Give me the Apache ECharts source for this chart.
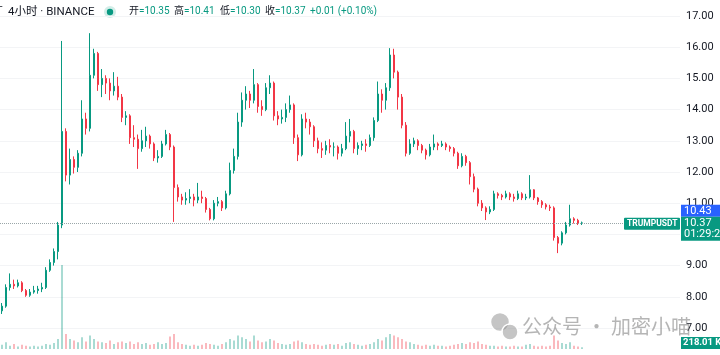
<!DOCTYPE html>
<html>
<head>
<meta charset="utf-8">
<script src="https://cdn.jsdelivr.net/npm/echarts@6/dist/echarts.min.js"></script>
<style>
  html, body { margin: 0; padding: 0; background: #fff; }
  #main { width: 720px; height: 355px; }
</style>
</head>
<body>
<div id="main"></div>
<script>
// 4小时 K线: [开, 收, 低, 高]
var ohlc = [
  [7.55, 7.7, 7.45, 7.8], [7.7, 8.3, 7.65, 8.4], [8.3, 8.4, 8.2, 8.75], [8.4, 8.35, 8.25, 8.55],
  [8.35, 8.45, 8.3, 8.55], [8.45, 8.2, 8.15, 8.5], [8.2, 8.05, 8.0, 8.25], [8.05, 8.15, 8.0, 8.25],
  [8.15, 8.2, 8.1, 8.35], [8.2, 8.25, 8.1, 8.35], [8.25, 8.3, 8.15, 8.45], [8.3, 8.85, 8.25, 8.95],
  [8.85, 9.1, 8.8, 9.2], [9.1, 9.45, 9.0, 9.55], [9.45, 10.3, 9.2, 10.4], [10.3, 13.3, 10.2, 16.2],
  [13.3, 11.9, 11.7, 13.4], [11.9, 12.4, 11.6, 12.75], [12.4, 12.15, 11.95, 12.5], [12.15, 12.6, 12.0, 12.7],
  [12.6, 13.7, 12.5, 14.3], [13.7, 13.4, 13.2, 13.9], [13.4, 15.1, 13.3, 16.45], [15.1, 15.8, 15.0, 15.95],
  [15.8, 14.8, 14.6, 15.85], [14.8, 15.0, 14.4, 15.3], [15.0, 14.85, 14.5, 15.1], [14.85, 14.6, 14.3, 15.0],
  [14.6, 14.75, 14.45, 15.2], [14.75, 14.4, 14.3, 15.05], [14.4, 13.75, 13.6, 14.5], [13.75, 13.8, 13.5, 13.95],
  [13.8, 13.1, 12.9, 13.85], [13.1, 13.05, 12.8, 13.5], [13.05, 12.75, 12.1, 13.2], [12.75, 13.0, 12.65, 13.35],
  [13.0, 13.15, 12.8, 13.45], [13.15, 12.9, 12.75, 13.2], [12.9, 12.45, 12.35, 12.95], [12.45, 12.5, 12.3, 12.7],
  [12.5, 12.9, 12.45, 13.0], [12.9, 13.2, 12.85, 13.35], [13.2, 12.8, 12.7, 13.25], [12.8, 11.5, 10.4, 12.85],
  [11.5, 11.2, 11.05, 11.6], [11.2, 11.1, 10.95, 11.3], [11.1, 11.15, 10.95, 11.35], [11.15, 11.2, 11.0, 11.45],
  [11.2, 11.1, 10.9, 11.3], [11.1, 11.2, 11.0, 11.65], [11.2, 11.15, 11.0, 11.4], [11.15, 10.8, 10.7, 11.2],
  [10.8, 10.5, 10.45, 10.85], [10.5, 11.0, 10.45, 11.1], [11.0, 11.05, 10.9, 11.2], [11.05, 10.85, 10.75, 11.1],
  [10.85, 11.3, 10.8, 11.4], [11.3, 12.05, 11.25, 12.3], [12.05, 12.5, 11.95, 12.75], [12.5, 13.6, 12.4, 13.9],
  [13.6, 14.3, 13.45, 14.55], [14.3, 14.5, 14.0, 14.75], [14.5, 14.3, 14.05, 14.6], [14.3, 14.8, 14.2, 15.3],
  [14.8, 14.1, 13.9, 14.85], [14.1, 14.0, 13.8, 14.3], [14.0, 14.7, 13.95, 14.85], [14.7, 14.85, 14.5, 15.1],
  [14.85, 13.8, 13.65, 14.9], [13.8, 13.7, 13.5, 13.95], [13.7, 13.75, 13.55, 14.0], [13.75, 14.0, 13.6, 14.2],
  [14.0, 14.15, 13.9, 14.45], [14.15, 13.1, 12.9, 14.2], [13.1, 12.55, 12.35, 13.2], [12.55, 13.7, 12.5, 13.85],
  [13.7, 13.6, 13.4, 13.9], [13.6, 13.45, 13.2, 13.7], [13.45, 13.0, 12.8, 13.5], [13.0, 12.75, 12.6, 13.1],
  [12.75, 12.7, 12.45, 12.95], [12.7, 12.85, 12.55, 13.0], [12.85, 12.8, 12.6, 13.05], [12.8, 12.8, 12.5, 12.95],
  [12.8, 12.6, 12.4, 12.85], [12.6, 12.75, 12.5, 12.9], [12.75, 13.15, 12.7, 13.6], [13.15, 13.3, 12.95, 13.7],
  [13.3, 12.75, 12.6, 13.35], [12.75, 12.85, 12.55, 12.95], [12.85, 12.9, 12.7, 13.0], [12.9, 12.85, 12.65, 13.05],
  [12.85, 13.1, 12.8, 13.2], [13.1, 13.65, 13.0, 13.75], [13.65, 14.5, 13.6, 14.9], [14.5, 14.3, 13.9, 14.65],
  [14.3, 14.7, 14.0, 14.85], [14.7, 15.75, 14.6, 15.97], [15.75, 15.2, 15.0, 15.95], [15.2, 14.4, 14.0, 15.25],
  [14.4, 13.5, 13.4, 14.5], [13.5, 12.6, 12.5, 13.6], [12.6, 12.9, 12.55, 13.05], [12.9, 13.0, 12.8, 13.1],
  [13.0, 12.85, 12.7, 13.05], [12.85, 12.7, 12.6, 12.9], [12.7, 12.55, 12.4, 12.75], [12.55, 12.8, 12.5, 12.9],
  [12.8, 12.9, 12.7, 13.2], [12.9, 12.85, 12.7, 12.95], [12.85, 12.9, 12.8, 13.0], [12.9, 12.8, 12.7, 12.95],
  [12.8, 12.75, 12.65, 12.85], [12.75, 12.6, 12.5, 12.8], [12.6, 12.2, 12.1, 12.65], [12.2, 12.5, 12.15, 12.6],
  [12.5, 12.3, 12.2, 12.55], [12.3, 11.85, 11.6, 12.35], [11.85, 11.45, 11.35, 11.95], [11.45, 11.0, 10.9, 11.5],
  [11.0, 10.85, 10.75, 11.1], [10.85, 10.72, 10.46, 10.9], [10.72, 10.8, 10.65, 10.9], [10.8, 11.3, 10.75, 11.4],
  [11.3, 11.25, 11.15, 11.35], [11.25, 11.2, 11.1, 11.3], [11.2, 11.3, 11.15, 11.4], [11.3, 11.2, 11.1, 11.35],
  [11.2, 11.15, 11.05, 11.3], [11.15, 11.3, 11.1, 11.4], [11.3, 11.17, 11.1, 11.35], [11.17, 11.2, 11.1, 11.3],
  [11.2, 11.43, 11.15, 11.9], [11.43, 11.17, 11.1, 11.45], [11.17, 11.05, 10.95, 11.2], [11.05, 10.95, 10.85, 11.1],
  [10.95, 10.88, 10.8, 11.0], [10.88, 10.85, 10.75, 10.95], [10.85, 9.9, 9.8, 10.9], [9.9, 9.72, 9.4, 9.95],
  [9.72, 10.05, 9.65, 10.1], [10.05, 10.3, 10.0, 10.4], [10.3, 10.5, 10.25, 10.95], [10.5, 10.45, 10.35, 10.55],
  [10.45, 10.35, 10.3, 10.5], [10.35, 10.37, 10.30, 10.41]
];

// 成交量(相对值)
var volumes = [
  5, 8, 4, 6, 3, 5, 4, 3, 4, 3, 4,
  6, 5, 7, 12,
  100,
  18, 12, 10, 8, 14, 9, 16, 12, 9, 8, 7, 10, 6, 8, 9,
  7, 9, 6, 8, 6, 7, 5, 6, 8, 6, 7, 15, 18, 8, 6,
  5, 4, 5, 4, 5, 7, 6, 5, 4, 6, 8, 12, 10, 16, 14,
  12, 9, 16, 10, 8, 9, 12, 10, 7, 6, 5, 6, 9, 10, 8,
  6, 5, 6, 5, 4, 5, 6, 5, 6, 4, 7, 8, 6, 5, 4,
  5, 6, 8, 12, 10, 14, 18, 16, 14, 12, 9, 8, 6, 5, 4,
  5, 4, 5, 4, 4, 3, 4, 5, 6, 7, 6, 8, 7, 9, 6,
  5, 4, 4, 3, 4, 3, 3, 4, 3, 3, 5, 6, 4, 3, 4,
  3, 4, 16, 10, 7, 6, 8, 4, 3, 2
];

var priceTicks = [7, 17, 1];   // min, max, interval
var lastClose = 10.37;
var askPrice = 10.43;
var countdown = '01:29:20';
var lastVolume = '218.01 K';
var headerValues = ['10.35', '10.41', '10.30', '10.37', '+0.01 (+0.10%)'];

// 右侧留白: 空的类目
var slots = [];
for (var i = 0; i < 170; i++) slots.push(i);

var UP = '#089981', DOWN = '#f23645';

var volData = volumes.map(function (v, i) {
  var up = ohlc[i][1] >= ohlc[i][0];
  return { value: v, itemStyle: { color: up ? 'rgba(8,153,129,0.35)' : 'rgba(242,54,69,0.35)' } };
});

var myChart = echarts.init(document.getElementById('main'));

var font = 'Roboto, "Noto Sans CJK SC", sans-serif';
var rich = {
  l: { fill: '#131722', fontSize: 10, fontFamily: font },
  v: { fill: UP, fontSize: 10, fontFamily: font }
};

var option = {
  animation: false,
  backgroundColor: '#fff',
  grid: [
    { left: 0, right: 40, top: 16, bottom: 27 },
    { left: 0, right: 40, top: 265, bottom: 6 }
  ],
  xAxis: [
    { type: 'category', data: slots, gridIndex: 0, boundaryGap: true,
      axisLine: { show: false }, axisTick: { show: false }, axisLabel: { show: false }, splitLine: { show: false } },
    { type: 'category', data: slots, gridIndex: 1, boundaryGap: true,
      axisLine: { show: false }, axisTick: { show: false }, axisLabel: { show: false }, splitLine: { show: false } }
  ],
  yAxis: [
    { type: 'value', gridIndex: 0, position: 'right', min: priceTicks[0], max: priceTicks[1], interval: priceTicks[2],
      axisLine: { show: false }, axisTick: { show: false },
      axisLabel: { margin: 6, color: '#131722', fontSize: 11, fontFamily: font,
        formatter: function (v) { return v.toFixed(2); } },
      splitLine: { lineStyle: { color: '#f3f4f6' } } },
    { type: 'value', gridIndex: 1, min: 0, max: 100, show: false,
      splitLine: { show: false } }
  ],
  series: [
    {
      type: 'bar', xAxisIndex: 1, yAxisIndex: 1, data: volData, barWidth: '50%'
    },
    {
      type: 'candlestick', xAxisIndex: 0, yAxisIndex: 0, data: ohlc, barWidth: '62%',
      itemStyle: { color: UP, color0: DOWN, borderColor: UP, borderColor0: DOWN, borderWidth: 1 },
      markLine: {
        silent: true, symbol: 'none', label: { show: false },
        lineStyle: { type: 'dotted', color: '#9aa6a8', width: 1 },
        data: [{ yAxis: lastClose }]
      }
    }
  ],
  graphic: [
    { type: 'text', left: -4, top: 6, style: { text: 'T', font: '11px ' + font, fill: '#131722' } },
    { type: 'text', left: 8, top: 6, style: { text: '4小时 · BINANCE', font: '11.5px ' + font, fill: '#131722' } },
    { type: 'circle', shape: { cx: 110, cy: 12, r: 6 }, style: { fill: 'rgba(8,153,129,0.18)' } },
    { type: 'circle', shape: { cx: 110, cy: 12, r: 3.2 }, style: { fill: UP } },
    { type: 'text', left: 129, top: 7, style: { rich: rich, text: '{l|开}{v|=' + headerValues[0] + '}' } },
    { type: 'text', left: 174, top: 7, style: { rich: rich, text: '{l|高}{v|=' + headerValues[1] + '}' } },
    { type: 'text', left: 220, top: 7, style: { rich: rich, text: '{l|低}{v|=' + headerValues[2] + '}' } },
    { type: 'text', left: 265, top: 7, style: { rich: rich, text: '{l|收}{v|=' + headerValues[3] + '}' } },
    { type: 'text', left: 310, top: 7, style: { text: headerValues[4], font: '10px ' + font, fill: UP } },
    // 水印
    { type: 'circle', shape: { cx: 500, cy: 322, r: 9.5 }, style: { fill: 'rgba(140,140,140,0.5)', stroke: '#fff', lineWidth: 1.5 }, z: 50 },
    { type: 'circle', shape: { cx: 510, cy: 332, r: 8 }, style: { fill: 'rgba(140,140,140,0.5)', stroke: '#fff', lineWidth: 1.5 }, z: 51 },
    { type: 'text', left: 522, top: 316, z: 50, style: { text: '公众号 · 加密小喵', font: '20px "Noto Sans CJK SC", sans-serif', fill: 'rgba(120,120,120,0.55)' } }
  ]
};

myChart.setOption(option);

// 右侧价格标签
var yLast = myChart.convertToPixel({ yAxisIndex: 0 }, lastClose);
var tags = [
  { type: 'rect', shape: { x: 681, y: yLast - 18, width: 40, height: 12 }, style: { fill: '#2962ff' }, z: 60 },
  { type: 'text', left: 684, top: yLast - 17, z: 61, style: { text: askPrice.toFixed(2), font: '11px ' + font, fill: '#fff' } },
  { type: 'rect', shape: { x: 681, y: yLast - 6, width: 40, height: 24 }, style: { fill: UP }, z: 60 },
  { type: 'text', left: 684, top: yLast - 5, z: 61, style: { text: lastClose.toFixed(2), font: '11px ' + font, fill: '#fff' } },
  { type: 'text', left: 684, top: yLast + 6, z: 61, style: { text: countdown, font: '11px ' + font, fill: '#fff' } },
  { type: 'rect', shape: { x: 624, y: yLast - 5, width: 56, height: 12, r: 1 }, style: { fill: UP }, z: 60 },
  { type: 'text', left: 627, top: yLast - 3.5, z: 61, style: { text: 'TRUMPUSDT', font: 'bold 8.5px ' + font, fill: '#fff' } },
  { type: 'rect', shape: { x: 681, y: 337, width: 40, height: 12 }, style: { fill: UP }, z: 60 },
  { type: 'text', left: 683, top: 338, z: 61, style: { text: lastVolume, font: 'bold 9.5px ' + font, fill: '#fff' } }
];
myChart.setOption({ graphic: option.graphic.concat(tags) });
</script>
</body>
</html>
